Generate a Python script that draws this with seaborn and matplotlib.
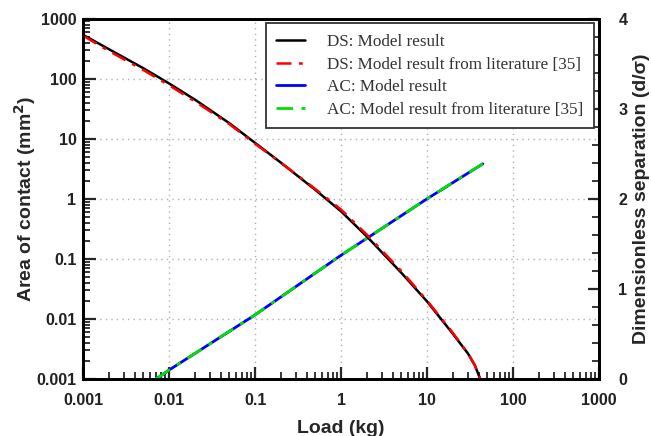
import numpy as np
import pandas as pd
import matplotlib
matplotlib.use("Agg")
import matplotlib.pyplot as plt
import matplotlib.ticker as mticker
from matplotlib.lines import Line2D
import seaborn as sns

# ---- data ----
ds_load = [0.001, 0.002, 0.005, 0.01, 0.02, 0.05, 0.1, 0.2, 0.5, 1.0, 2.0, 5.0, 10, 20, 30, 36, 41.5]
ds_model = [3.82, 3.66, 3.45, 3.28, 3.10, 2.84, 2.62, 2.40, 2.10, 1.86, 1.58, 1.18, 0.86, 0.50, 0.28, 0.15, 0.0]
ds_lit = [3.81, 3.64, 3.43, 3.26, 3.08, 2.83, 2.61, 2.40, 2.11, 1.88, 1.60, 1.20, 0.87, 0.51, 0.28, 0.15, 0.0]

ac_load = [0.00705, 0.01, 0.1, 1.0, 10, 44.6]
ac_model = [0.001, 0.00141, 0.0117, 0.115, 1.0, 3.83]
ac_lit = [0.001, 0.00141, 0.0117, 0.115, 1.0, 3.83]

labels = ["DS: Model result", "DS: Model result from literature [35]",
          "AC: Model result", "AC: Model result from literature [35]"]
colors = ["black", "#ff0000", "#0000ff", "#00e000"]

x_ticks = [0.001, 0.01, 0.1, 1, 10, 100, 1000]
x_ticklabels = ["0.001", "0.01", "0.1", "1", "10", "100", "1000"]
y_ticks = [0.001, 0.01, 0.1, 1, 10, 100, 1000]
y_ticklabels = ["0.001", "0.01", "0.1", "1", "10", "100", "1000"]
y2_ticks = [0, 1, 2, 3, 4]

# ---- plotting ----
sns.set_style("ticks")
plt.rcParams["font.family"] = ["Liberation Sans", "DejaVu Sans"]

fig = plt.figure(figsize=(6.51, 4.36), dpi=100)
ax = fig.add_axes([0.128, 0.131, 0.792, 0.826])
ax2 = ax.twinx()

ds_df = pd.DataFrame({"load": ds_load, "model": ds_model, "lit": ds_lit})
ac_df = pd.DataFrame({"load": ac_load, "model": ac_model, "lit": ac_lit})

dashdot = (6, 3, 1.5, 3)

sns.lineplot(data=ac_df, x="load", y="model", ax=ax, color=colors[2], lw=2.0, sort=False)
sns.lineplot(data=ac_df, x="load", y="lit", ax=ax, color=colors[3], lw=2.0, sort=False,
             linestyle=(0, dashdot))
sns.lineplot(data=ds_df, x="load", y="model", ax=ax2, color=colors[0], lw=1.8, sort=False)
sns.lineplot(data=ds_df, x="load", y="lit", ax=ax2, color=colors[1], lw=1.8, sort=False,
             linestyle=(0, dashdot))

ax.set_xscale("log")
ax.set_yscale("log")
ax.set_xlim(0.001, 1000)
ax.set_ylim(0.001, 1000)
ax2.set_ylim(0, 4)

ax.set_xticks(x_ticks)
ax.set_xticklabels(x_ticklabels)
ax.set_yticks(y_ticks)
ax.set_yticklabels(y_ticklabels)
ax.xaxis.set_minor_locator(mticker.LogLocator(base=10, subs=np.arange(2, 10), numticks=20))
ax.yaxis.set_minor_locator(mticker.LogLocator(base=10, subs=np.arange(2, 10), numticks=20))
ax.xaxis.set_minor_formatter(mticker.NullFormatter())
ax.yaxis.set_minor_formatter(mticker.NullFormatter())
ax2.set_yticks(y2_ticks)
ax2.yaxis.set_minor_locator(mticker.MultipleLocator(0.2))

ax.grid(True, which="major", color="#b0b0b0", linestyle=(0, (1, 3)), linewidth=1.0)

for a in (ax, ax2):
    for s in a.spines.values():
        s.set_linewidth(2.0)
        s.set_color("black")
        s.set_visible(True)

ax.tick_params(which="major", direction="in", length=9, width=1.6, labelsize=11.5,
               top=False, right=False)
ax.tick_params(axis="y", which="major", pad=5)
ax.tick_params(axis="x", which="major", pad=10)
ax.tick_params(which="minor", direction="in", length=5, width=1.3, top=False, right=False)
ax2.tick_params(which="major", direction="in", length=8, width=1.6, labelsize=11.5, pad=14)
ax2.tick_params(which="minor", direction="in", length=5, width=1.3)

for lab in ax.get_xticklabels() + ax.get_yticklabels() + ax2.get_yticklabels():
    lab.set_fontweight("bold")
    lab.set_color("#222222")

ax.set_xlabel("Load (kg)", fontsize=14, fontweight="bold", labelpad=9)
ax.set_ylabel("Area of contact (mm$^\\mathbf{2}$)", fontsize=14, fontweight="bold", labelpad=-1)
ax2.set_ylabel("Dimensionless separation (d/σ)", fontsize=14, fontweight="bold", labelpad=4)

handles = [
    Line2D([], [], color=colors[0], lw=1.8),
    Line2D([], [], color=colors[1], lw=1.8, linestyle=(0, dashdot)),
    Line2D([], [], color=colors[2], lw=2.0),
    Line2D([], [], color=colors[3], lw=2.0, linestyle=(0, dashdot)),
]
leg = ax2.legend(handles, labels, loc="upper right", bbox_to_anchor=(0.99, 0.987),
                 prop={"family": "Liberation Serif", "size": 12.3},
                 frameon=True, fancybox=False, edgecolor="#333333", framealpha=1,
                 handlelength=1.7, handletextpad=1.3, labelspacing=0.4,
                 borderpad=0.6, borderaxespad=0)
leg.get_frame().set_linewidth(1.3)
for t in leg.get_texts():
    t.set_color("#333333")

fig.savefig("out.png", dpi=100)
